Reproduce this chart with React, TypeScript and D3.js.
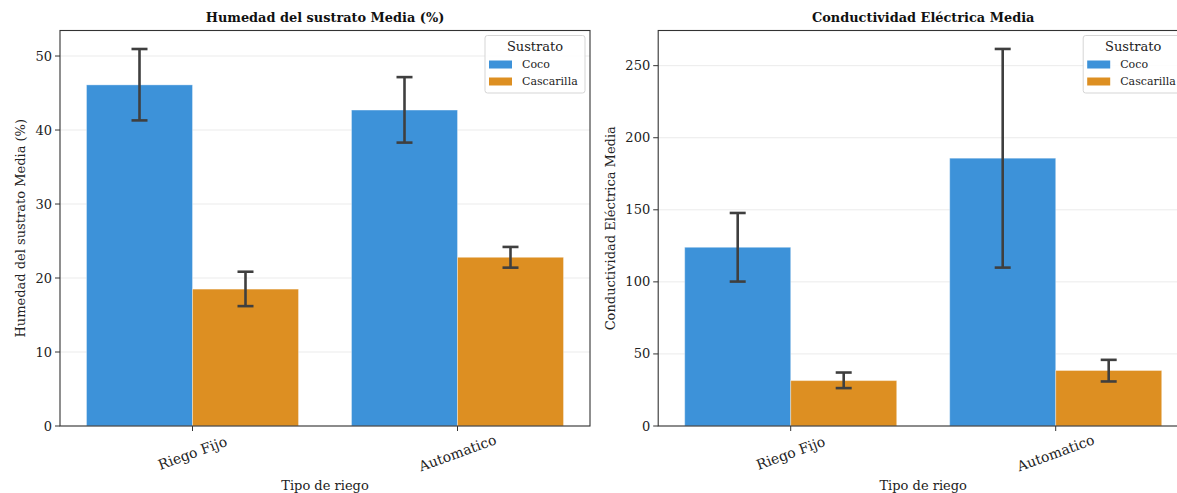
import React from "react";
import * as d3 from "d3";

const categories = ["Riego Fijo", "Automatico"];
const substrates = ["Coco", "Cascarilla"];
const colors = ["#3d92d9", "#dd8f22"];

// Humedad del sustrato Media (%)
const humMean = [[46.1, 18.5], [42.7, 22.8]];
const humLow = [[41.3, 16.2], [38.3, 21.4]];
const humHigh = [[50.95, 20.85], [47.15, 24.2]];
const humTicks = [0, 10, 20, 30, 40, 50];

// Conductividad Eléctrica Media
const ceMean = [[124.0, 31.5], [185.8, 38.5]];
const ceLow = [[100.2, 26.3], [109.9, 30.9]];
const ceHigh = [[147.8, 37.1], [261.6, 45.9]];
const ceTicks = [0, 50, 100, 150, 200, 250];

const FONT = "'DejaVu Serif', serif";

type PanelProps = {
  left: number;
  title: string;
  ylabel: string;
  ylabelOffset: number;
  means: number[][];
  lows: number[][];
  highs: number[][];
  ticks: number[];
  ymax: number;
};

function Panel({ left, title, ylabel, ylabelOffset, means, lows, highs, ticks, ymax }: PanelProps) {
  const width = 530;
  const top = 30.5;
  const bottom = 426;
  const right = left + width;
  const x = d3.scaleBand<string>().domain(categories).range([left, right]).paddingInner(0.2).paddingOuter(0.1);
  const xs = d3.scaleBand<string>().domain(substrates).range([0, x.bandwidth()]).padding(0);
  const y = d3.scaleLinear().domain([0, ymax]).range([bottom, top]);
  const cx = (left + right) / 2;
  const axisColor = "#333";
  return (
    <g>
      {ticks.map((t) => (
        <line key={"g" + t} x1={left} x2={right} y1={y(t)} y2={y(t)} stroke="#ebebeb" strokeWidth={1} />
      ))}
      {categories.map((c, ci) =>
        substrates.map((s, si) => (
          <rect
            key={c + s}
            x={(x(c) as number) + (xs(s) as number)}
            y={y(means[ci][si])}
            width={xs.bandwidth()}
            height={bottom - y(means[ci][si])}
            fill={colors[si]}
            stroke="#ffffff"
            strokeOpacity={0.35}
            strokeWidth={1}
          />
        ))
      )}
      {categories.map((c, ci) =>
        substrates.map((s, si) => {
          const ex = (x(c) as number) + (xs(s) as number) + xs.bandwidth() / 2;
          const y1 = y(lows[ci][si]);
          const y2 = y(highs[ci][si]);
          return (
            <g key={"e" + c + s} stroke="#3f3f3f" strokeWidth={2.6}>
              <line x1={ex} x2={ex} y1={y1} y2={y2} />
              <line x1={ex - 8} x2={ex + 8} y1={y1} y2={y1} />
              <line x1={ex - 8} x2={ex + 8} y1={y2} y2={y2} />
            </g>
          );
        })
      )}
      <rect x={left} y={top} width={width} height={bottom - top} fill="none" stroke={axisColor} strokeWidth={1.1} />
      {ticks.map((t) => (
        <g key={"t" + t}>
          <line x1={left - 5} x2={left} y1={y(t)} y2={y(t)} stroke={axisColor} strokeWidth={1} />
          <text x={left - 8} y={y(t)} dy="0.35em" textAnchor="end" fontSize={13} fill="#222" fontFamily={FONT}>
            {t}
          </text>
        </g>
      ))}
      {categories.map((c) => {
        const tx = (x(c) as number) + x.bandwidth() / 2;
        return (
          <g key={"x" + c}>
            <line x1={tx} x2={tx} y1={bottom} y2={bottom + 5} stroke={axisColor} strokeWidth={1} />
            <text
              transform={`translate(${tx},${bottom + 27}) rotate(-20)`}
              textAnchor="middle"
              dy="0.35em"
              fontSize={14}
              fill="#222"
              fontFamily={FONT}
            >
              {c}
            </text>
          </g>
        );
      })}
      <text x={cx} y={22} textAnchor="middle" fontSize={12.9} fontWeight="bold" fill="#111" fontFamily={FONT}>
        {title}
      </text>
      <text x={cx} y={490} textAnchor="middle" fontSize={13} fill="#222" fontFamily={FONT}>
        Tipo de riego
      </text>
      <text
        transform={`translate(${left - ylabelOffset},${(top + bottom) / 2}) rotate(-90)`}
        textAnchor="middle"
        dy="0.35em"
        fontSize={13}
        fill="#222"
        fontFamily={FONT}
      >
        {ylabel}
      </text>
      <g transform={`translate(${right - 105},${35.5})`}>
        <rect x={0} y={0} width={100} height={57.5} rx={2.5} fill="#ffffff" fillOpacity={0.85} stroke="#d5d5d5" strokeWidth={1} />
        <text x={50} y={15} textAnchor="middle" fontSize={13} fill="#222" fontFamily={FONT}>
          Sustrato
        </text>
        {substrates.map((s, i) => (
          <g key={"l" + s} transform={`translate(4,${25 + i * 17})`}>
            <rect x={0} y={0} width={23} height={8} fill={colors[i]} />
            <text x={33} y={4} dy="0.35em" fontSize={11} fill="#222" fontFamily={FONT}>
              {s}
            </text>
          </g>
        ))}
      </g>
    </g>
  );
}

export default function App() {
  return (
    <svg
      width={1177}
      height={493}
      style={{ position: "absolute", left: 0, top: 0, background: "#fff" }}
    >
      <rect width={1177} height={493} fill="#fff" />
      <Panel
        left={60}
        title="Humedad del sustrato Media (%)"
        ylabel="Humedad del sustrato Media (%)"
        ylabelOffset={40}
        means={humMean}
        lows={humLow}
        highs={humHigh}
        ticks={humTicks}
        ymax={53.45}
      />
      <Panel
        left={658.2}
        title="Conductividad Eléctrica Media"
        ylabel="Conductividad Eléctrica Media"
        ylabelOffset={47.5}
        means={ceMean}
        lows={ceLow}
        highs={ceHigh}
        ticks={ceTicks}
        ymax={274.4}
      />
    </svg>
  );
}
